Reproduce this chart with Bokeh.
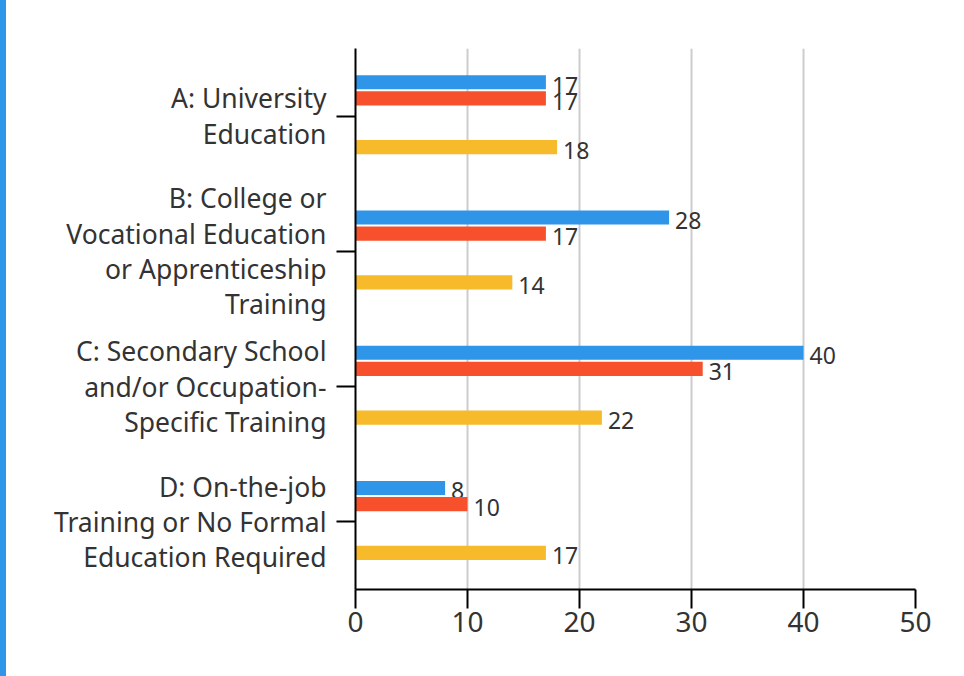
from bokeh.plotting import figure
from bokeh.models import FactorRange, Range1d, FixedTicker, ColumnDataSource, GlobalInlineStyleSheet
from bokeh.transform import dodge
from bokeh.core.properties import value
from bokeh.embed import file_html
from bokeh.resources import INLINE

# ---- data ----
categories = [
    "A: University\nEducation",
    "B: College or\nVocational Education\nor Apprenticeship\nTraining",
    "C: Secondary School\nand/or Occupation-\nSpecific Training",
    "D: On-the-job\nTraining or No Formal\nEducation Required",
]
series_names = ["Series 1", "Series 2", "Series 3"]
series1_values = [17, 28, 40, 8]
series2_values = [17, 17, 31, 10]
series3_values = [18, 14, 22, 17]
x_ticks = [0, 10, 20, 30, 40, 50]

# ---- styles ----
colors = ["#2E95E9", "#F7502C", "#F6BA2A"]
offsets = [0.251, 0.131, -0.229]
bar_h = 0.104
FONT = "Noto Sans"
TXT = "#333333"

p = figure(
    width=964, height=672,
    y_range=FactorRange(factors=categories[::-1], range_padding=0),
    x_range=Range1d(0, 50),
    output_backend="svg", toolbar_location=None,
    min_border_left=355, min_border_right=49,
    min_border_top=48, min_border_bottom=83,
)
p.outline_line_color = None
p.background_fill_color = "white"
p.border_fill_color = None

for vals, col, off, name in zip([series1_values, series2_values, series3_values], colors, offsets, series_names):
    src = ColumnDataSource(dict(cat=categories, val=vals, lab=[str(v) for v in vals]))
    p.hbar(y=dodge("cat", off, range=p.y_range), left=0, right="val", height=bar_h,
           source=src, fill_color=col, line_color=None)
    p.text(x="val", y=dodge("cat", off, range=p.y_range), text="lab", source=src,
           x_offset=6, y_offset=3, text_baseline="middle", text_align="left",
           text_font=value(FONT), text_font_size="23px", text_color=TXT)

p.xaxis.ticker = FixedTicker(ticks=x_ticks)
p.xgrid.ticker = FixedTicker(ticks=x_ticks)
p.xgrid.grid_line_color = "#cccccc"
p.xgrid.grid_line_width = 2
p.ygrid.grid_line_color = None

for ax in (p.xaxis[0], p.yaxis[0]):
    ax.axis_line_color = "black"
    ax.axis_line_width = 2
    ax.major_tick_line_color = "black"
    ax.major_tick_line_width = 2
    ax.major_tick_in = 0
    ax.major_tick_out = 19
    ax.minor_tick_line_color = None
    ax.major_label_text_font = FONT
    ax.major_label_text_color = TXT

p.xaxis.major_label_text_font_size = "28px"
p.xaxis.major_label_standoff = 3
p.yaxis.major_label_text_font_size = "26.5px"
p.yaxis.major_label_text_line_height = 0.98
p.yaxis.major_label_standoff = 10

p.stylesheets = [GlobalInlineStyleSheet(css="html,body{margin:0;padding:0;} html{background:linear-gradient(to right,#2E95E9 0,#2E95E9 6px,#ffffff 6px);min-height:100%;} body{background:transparent;overflow:hidden;}")]

open("out.html", "w").write(file_html(p, INLINE))
